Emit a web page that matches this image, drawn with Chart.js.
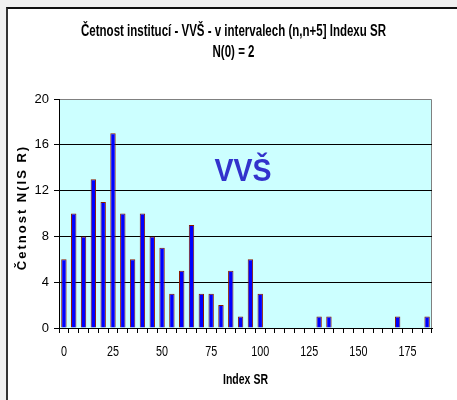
<!DOCTYPE html>
<html>
<head>
<meta charset="utf-8">
<script src="https://cdn.jsdelivr.net/npm/chart.js@4.4.0/dist/chart.umd.min.js"></script>
<style>
  html, body { margin: 0; padding: 0; background: #f0f0f0; width: 457px; height: 400px; overflow: hidden; }
  #frame { position: absolute; left: 6px; top: 7px; width: 451px; height: 393px; background: #fff;
           border-left: 2px solid #333; border-top: 2px solid #111; }
  #c { display: block; }
</style>
</head>
<body>
<div id="frame"><canvas id="c" width="449" height="391" style="width:449px;height:391px"></canvas></div>
<script>
// categories: interval start n of (n, n+5]
const categories = [0, 5, 10, 15, 20, 25, 30, 35, 40, 45, 50, 55, 60, 65, 70, 75, 80, 85, 90, 95,
  100, 105, 110, 115, 120, 125, 130, 135, 140, 145, 150, 155, 160, 165, 170, 175, 180, 185];
const counts = [6, 10, 8, 13, 11, 17, 10, 6, 10, 8, 7, 3, 5, 9, 3, 3, 2, 5, 1, 6,
  3, 0, 0, 0, 0, 0, 1, 1, 0, 0, 0, 0, 0, 0, 1, 0, 0, 1];
const yTicks = [0, 4, 8, 12, 16, 20];
const titleLines = ['Četnost institucí - VVŠ - v intervalech (n,n+5] Indexu SR', 'N(0) = 2'];
const yTitle = 'Četnost N(IS R)';
const xTitle = 'Index SR';
const watermark = 'VVŠ';

const FONT = "'Liberation Sans', Arial, sans-serif";
const SQUEEZE = 0.72; // the original text looks horizontally condensed

function squeezed(ctx, text, x, y, f) {
  ctx.save();
  ctx.translate(x, y);
  ctx.scale(f, 1);
  ctx.fillText(text, 0, 0);
  ctx.restore();
}

const decor = {
  id: 'decor',
  beforeDraw(chart) {
    const { ctx, chartArea: a } = chart;
    ctx.save();
    ctx.fillStyle = '#ccffff';
    ctx.fillRect(a.left, a.top, a.right - a.left, a.bottom - a.top);
    ctx.strokeStyle = '#808080';
    ctx.lineWidth = 1;
    ctx.beginPath();
    ctx.moveTo(a.left, a.top + 0.5);
    ctx.lineTo(a.right - 0.5, a.top + 0.5);
    ctx.lineTo(a.right - 0.5, a.bottom);
    ctx.stroke();
    ctx.restore();
  },
  afterDraw(chart) {
    const { ctx, chartArea: a } = chart;
    const xs = chart.scales.x;
    ctx.save();
    ctx.textAlign = 'center';
    ctx.textBaseline = 'middle';
    ctx.fillStyle = '#000';

    // chart title
    ctx.font = 'bold 16px ' + FONT;
    titleLines.forEach((t, i) => squeezed(ctx, t, chart.width / 2 + 1, 23 + i * 21, SQUEEZE));

    // x tick labels every 25
    ctx.font = '15px ' + FONT;
    categories.forEach((c, i) => {
      if (c % 25 === 0) squeezed(ctx, String(c), xs.getPixelForTick(i), a.bottom + 24, SQUEEZE);
    });

    // x title
    ctx.font = 'bold 15px ' + FONT;
    squeezed(ctx, xTitle, (a.left + a.right) / 2, a.bottom + 52, 0.7);

    // big label inside plot
    ctx.fillStyle = '#3333cc';
    ctx.font = 'bold 32px ' + FONT;
    squeezed(ctx, watermark, a.left + (a.right - a.left) * 0.493, a.top + (a.bottom - a.top) * 0.32, 0.89);

    // rotated y title with letter spacing
    ctx.fillStyle = '#000';
    ctx.font = 'bold 13px ' + FONT;
    ctx.letterSpacing = '2px';
    ctx.translate(14, (a.top + a.bottom) / 2 - 6);
    ctx.rotate(-Math.PI / 2);
    ctx.fillText(yTitle, 0, 0);
    ctx.restore();
  }
};

new Chart(document.getElementById('c'), {
  type: 'bar',
  data: {
    labels: categories,
    datasets: [{
      data: counts,
      backgroundColor: '#0000ff',
      borderColor: '#8b1a00',
      borderWidth: 1,
      borderSkipped: 'bottom',
      barPercentage: 0.55,
      categoryPercentage: 1
    }]
  },
  options: {
    responsive: false,
    animation: false,
    layout: { padding: { left: 0, right: 25, top: 90, bottom: 0 } },
    plugins: {
      legend: { display: false },
      tooltip: { enabled: false },
      title: { display: false }
    },
    scales: {
      x: {
        offset: true,
        grid: { offset: true, drawOnChartArea: false, color: '#000', tickLength: 5 },
        border: { color: '#000', width: 1 },
        ticks: { display: false, autoSkip: false },
        afterFit: s => { s.height = 72; }
      },
      y: {
        min: 0, max: 20,
        afterBuildTicks: s => { s.ticks = yTicks.map(v => ({ value: v })); },
        grid: {
          color: c => (c.tick && c.tick.value === 20 ? 'rgba(0,0,0,0)' : '#000'),
          tickColor: '#000', tickLength: 5, lineWidth: 1
        },
        border: { color: '#000', width: 1 },
        ticks: { color: '#000', padding: 5, font: { family: FONT, size: 13 } },
        afterFit: s => { s.width = 51; }
      }
    }
  },
  plugins: [decor]
});
</script>
</body>
</html>
